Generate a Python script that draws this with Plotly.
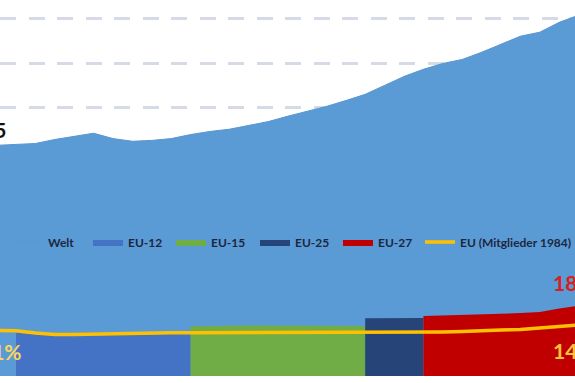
import plotly.graph_objects as go

# ---------------- data ----------------
years = list(range(1985, 2016))
world = [51.6, 51.8, 52.0, 52.9, 53.6, 54.3, 53.1, 52.5, 52.7, 53.1,
         54.0, 54.7, 55.2, 56.0, 56.9, 58.1, 59.2, 60.3, 61.6, 63.0,
         65.0, 67.0, 68.6, 69.9, 70.8, 72.4, 74.2, 76.0, 76.9, 79.1, 80.7]

eu12_years = list(range(1986, 1996))
eu12 = [9.7, 9.3, 9.0, 9.0, 9.1, 9.2, 9.3, 9.3, 9.4, 9.4]

eu15_years = list(range(1995, 2005))
eu15 = [11.1, 11.2, 11.2, 11.3, 11.3, 11.3, 11.3, 11.2, 11.2, 11.2]

eu25_years = list(range(2004, 2008))
eu25 = [12.9, 12.95, 13.0, 13.0]

eu27_years = list(range(2007, 2016))
eu27 = [13.4, 13.5, 13.65, 13.75, 13.9, 14.1, 14.3, 15.1, 15.7]

eu84 = [10.2, 10.1, 9.6, 9.3, 9.3, 9.4, 9.5, 9.6, 9.6, 9.7,
        9.7, 9.7, 9.7, 9.7, 9.7, 9.7, 9.7, 9.7, 9.7, 9.7,
        9.75, 9.8, 9.8, 9.85, 9.95, 10.2, 10.3, 10.4, 10.7, 11.1, 11.4]

labels = {"world_start": "15", "eu84_start": "21%", "eu27_end": "18%", "eu84_end": "14%"}

# ---------------- figure ----------------
C_WORLD = "#5B9BD5"
C_EU12 = "#4472C4"
C_EU15 = "#70AD47"
C_EU25 = "#264478"
C_EU27 = "#C00000"
C_EU84 = "#FFC000"

fig = go.Figure()
fig.add_trace(go.Scatter(x=years, y=world, name="Welt", fill="tozeroy", mode="lines",
                         fillcolor=C_WORLD, line=dict(color="#5896D2", width=1),
                         legendwidth=35))
fig.add_trace(go.Scatter(x=eu12_years, y=eu12, name="EU-12", fill="tozeroy", mode="lines",
                         fillcolor=C_EU12, line=dict(color=C_EU12, width=0), legendwidth=38))
fig.add_trace(go.Scatter(x=eu15_years, y=eu15, name="EU-15", fill="tozeroy", mode="lines",
                         fillcolor=C_EU15, line=dict(color=C_EU15, width=0), legendwidth=39))
fig.add_trace(go.Scatter(x=eu25_years, y=eu25, name="EU-25", fill="tozeroy", mode="lines",
                         fillcolor=C_EU25, line=dict(color=C_EU25, width=0), legendwidth=38))
fig.add_trace(go.Scatter(x=eu27_years, y=eu27, name="EU-27", fill="tozeroy", mode="lines",
                         fillcolor=C_EU27, line=dict(color=C_EU27, width=0), legendwidth=37))
fig.add_trace(go.Scatter(x=years, y=eu84, name="EU (Mitglieder 1984)", mode="lines",
                         line=dict(color=C_EU84, width=3.5), legendwidth=110))

W, H = 575, 383
lab_font = dict(family="Lato", size=21, weight="bold")
fig.add_annotation(xref="paper", yref="y", x=8 / W, y=world[0] + 3.6, text=labels["world_start"],
                   showarrow=False, xanchor="right", font=dict(lab_font, color="#111111"))
fig.add_annotation(xref="paper", yref="y", x=24 / W, y=eu84[0] - 4.8, text=labels["eu84_start"],
                   showarrow=False, xanchor="right", font=dict(lab_font, color="#FFD45C"))
fig.add_annotation(xref="paper", yref="y", x=551 / W, y=eu27[-1] + 5.3, text=labels["eu27_end"],
                   showarrow=False, xanchor="left", font=dict(lab_font, color="#D81E1E"))
fig.add_annotation(xref="paper", yref="y", x=551 / W, y=eu84[-1] - 5.6, text=labels["eu84_end"],
                   showarrow=False, xanchor="left", font=dict(lab_font, color="#FFC23A"))

fig.update_layout(
    width=W, height=H,
    margin=dict(l=0, r=0, t=0, b=7, pad=0),
    paper_bgcolor="white", plot_bgcolor="white",
    showlegend=True,
    legend=dict(orientation="h", x=8 / W, xanchor="left", y=1 - 242 / 376, yanchor="middle",
                bgcolor="rgba(0,0,0,0)", font=dict(family="Lato", size=12, weight="bold",
                                                   color="#1C2740"),
                entrywidthmode="pixels", traceorder="normal"),
    xaxis=dict(range=[1985.175, 2014.815], showgrid=False, showticklabels=False,
               zeroline=False, showline=False, ticks=""),
    yaxis=dict(range=[0, 84.1], dtick=10, showgrid=True, gridcolor="#D6D9E6", gridwidth=2.5,
               griddash="16px,12.5px", showticklabels=False, zeroline=False, showline=False,
               ticks=""),
)

fig.write_html("out.html", config={"displayModeBar": False},
               post_script="document.body.style.margin='0px';document.body.style.overflow='hidden';")
